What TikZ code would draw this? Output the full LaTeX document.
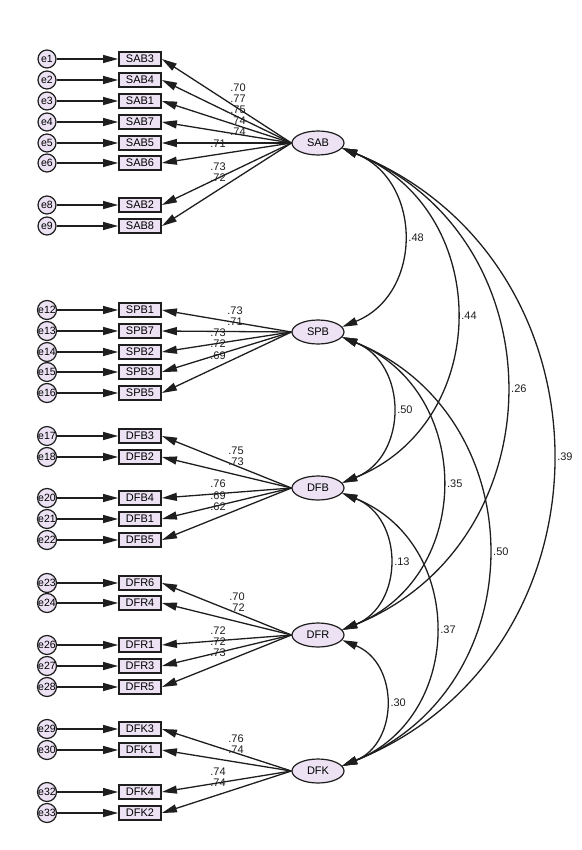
\documentclass[tikz,border=0pt]{standalone}
\usepackage{fontspec}
\setmainfont{Liberation Sans}
\usepackage{tikz}
\usetikzlibrary{arrows.meta,shapes.geometric}
\usepackage{xcolor}
\definecolor{amoslilac}{RGB}{236,226,244}
\definecolor{amosline}{RGB}{30,30,30}

\begin{document}
\begin{tikzpicture}[x=1pt,y=1pt,
  latent/.style={ellipse,draw=amosline,line width=1.2pt,fill=amoslilac,minimum width=52pt,minimum height=24pt,inner sep=0pt,font=\fontsize{11}{13}\selectfont},
  obs/.style={rectangle,draw=amosline,line width=1.8pt,fill=amoslilac,minimum width=42pt,minimum height=14pt,inner sep=0pt,font=\fontsize{11}{13}\selectfont},
  err/.style={circle,draw=amosline,line width=1.2pt,fill=amoslilac,minimum size=18pt,inner sep=0pt,font=\fontsize{10.5}{12}\selectfont},
  load/.style={-{Triangle[length=15pt,width=8pt]},line width=1.3pt,draw=amosline},
  cov/.style={{Triangle[length=15pt,width=8pt]}-{Triangle[length=15pt,width=8pt]},line width=1.3pt,draw=amosline},
  coef/.style={font=\fontsize{11}{13}\selectfont,text=amosline,inner sep=0pt}]
  \useasboundingbox (0,0) rectangle (581,-850);
  % latent factors
  \node[latent] (SAB) at (318,-143) {SAB};
  \node[latent] (SPB) at (318,-332) {SPB};
  \node[latent] (DFB) at (318,-488) {DFB};
  \node[latent] (DFR) at (318,-635) {DFR};
  \node[latent] (DFK) at (318,-771) {DFK};
  % indicators, errors, loadings
  \foreach \ind/\err/\yy/\lat/\lab/\lx/\ly in {
    SAB3/e1/59/SAB/.70/238/88, SAB4/e2/80/SAB/.77/238/99,
    SAB1/e3/101/SAB/.75/238/110, SAB7/e4/122/SAB/.74/238/121,
    SAB5/e5/143/SAB/.74/238/132, SAB6/e6/163/SAB/.71/218/144,
    SAB2/e8/205/SAB/.73/218/167, SAB8/e9/226/SAB/.72/218/178,
    SPB1/e12/310/SPB/.73/235/311, SPB7/e13/331/SPB/.71/235/322,
    SPB2/e14/352/SPB/.73/218/333, SPB3/e15/372/SPB/.72/218/344,
    SPB5/e16/393/SPB/.69/218/356,
    DFB3/e17/436/DFB/.75/236/451, DFB2/e18/457/DFB/.73/236/462,
    DFB4/e20/498/DFB/.76/218/484, DFB1/e21/519/DFB/.69/218/496,
    DFB5/e22/540/DFB/.62/218/507,
    DFR6/e23/583/DFR/.70/237/597, DFR4/e24/603/DFR/.72/237/608,
    DFR1/e26/645/DFR/.72/218/631, DFR3/e27/666/DFR/.72/218/642,
    DFR5/e28/687/DFR/.73/218/653,
    DFK3/e29/729/DFK/.76/236/739, DFK1/e30/750/DFK/.74/236/750,
    DFK4/e32/792/DFK/.74/218/772, DFK2/e33/813/DFK/.74/218/783}{
    \node[obs] (\ind) at (140,-\yy) {\ind};
    \node[err] (\err) at (47,-\yy) {\err};
    \draw[load] (\err) -- (\ind.west);
    \draw[load] (\lat.west) -- (\ind.east);
    \node[coef] at (\lx,-\ly) {\lab};
  }
  % correlations
  \draw[cov] (SAB.-12) to[out=-22,in=22,looseness=1.25] node[midway,right=5pt,coef] {.48} (SPB.12);
  \draw[cov] (SAB.-12) to[out=-22,in=22,looseness=1.25] node[midway,right=5pt,coef] {.44} (DFB.12);
  \draw[cov] (SAB.-12) to[out=-22,in=22,looseness=1.25] node[midway,right=5pt,coef] {.26} (DFR.12);
  \draw[cov] (SAB.-12) to[out=-22,in=22,looseness=1.25] node[midway,right=5pt,coef] {.39} (DFK.12);
  \draw[cov] (SPB.-12) to[out=-22,in=22,looseness=1.25] node[midway,right=5pt,coef] {.50} (DFB.12);
  \draw[cov] (SPB.-12) to[out=-22,in=22,looseness=1.25] node[midway,right=5pt,coef] {.35} (DFR.12);
  \draw[cov] (SPB.-12) to[out=-22,in=22,looseness=1.25] node[midway,right=5pt,coef] {.50} (DFK.12);
  \draw[cov] (DFB.-12) to[out=-22,in=22,looseness=1.25] node[midway,right=5pt,coef] {.13} (DFR.12);
  \draw[cov] (DFB.-12) to[out=-22,in=22,looseness=1.25] node[midway,right=5pt,coef] {.37} (DFK.12);
  \draw[cov] (DFR.-12) to[out=-22,in=22,looseness=1.25] node[midway,right=5pt,coef] {.30} (DFK.12);
\end{tikzpicture}
\end{document}
